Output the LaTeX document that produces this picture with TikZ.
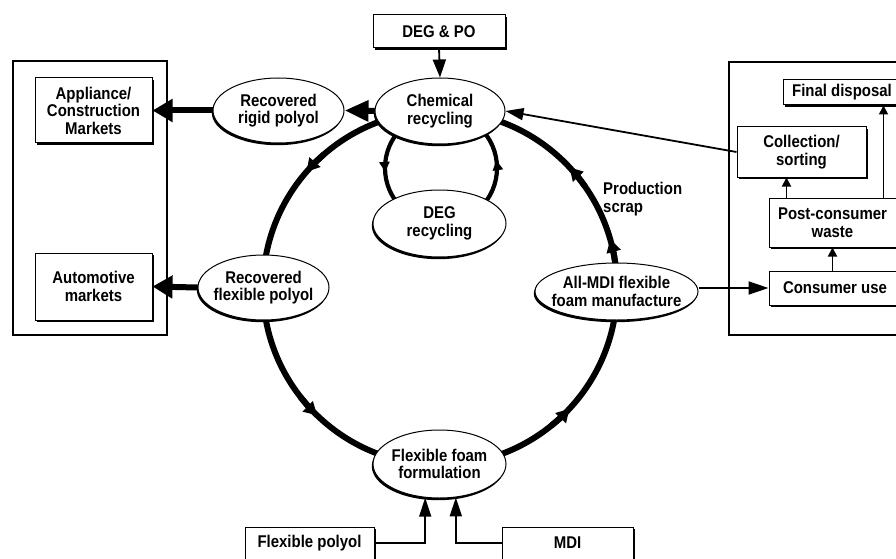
\documentclass[tikz,border=0pt]{standalone}
\usepackage{fontspec}
\setmainfont{Liberation Sans}[FakeStretch=0.88]
\usetikzlibrary{arrows.meta,shapes.geometric,shadows}
\tikzset{
  lab/.style={font=\fontsize{17}{17.5}\selectfont\bfseries, align=center, inner sep=0pt},
  ell/.style={ellipse, draw, line width=1pt, fill=white, inner sep=0pt,
    drop shadow={shadow xshift=-1.2pt, shadow yshift=-2.2pt, fill=black, opacity=1}},
  box/.style={lab, rectangle, draw, line width=1pt, fill=white,
    drop shadow={shadow xshift=2pt, shadow yshift=-2pt, fill=black, opacity=1}},
  frame/.style={draw, line width=2.2pt, rectangle, inner sep=0pt},
  fat/.style={line width=6pt, -{Triangle[length=20pt,width=22pt]}},
  link/.style={line width=1.8pt, -{Triangle[length=18pt,width=12pt]}},
  small/.style={line width=1.8pt, -{Triangle[length=9pt,width=9pt]}},
  ring/.style={line width=6pt},
  ringtip/.style={line width=6pt, -{Triangle[length=13pt,width=14pt]}},
  loop/.style={line width=4.2pt},
  looptip/.style={line width=4.2pt, -{Triangle[length=10pt,width=10pt]}}
}
\begin{document}
\begin{tikzpicture}[x=1pt,y=1pt]
\fill[white] (0,0) rectangle (896,558);
\useasboundingbox (0,0) rectangle (896,558);
\clip (0,0) rectangle (896,558);

% main cycle and DEG loop
\coordinate (C) at (440,270);
\coordinate (D) at (441,390);
\draw[ring] (C) circle[radius=177];
\foreach \a in {139,226,317,43,16}
  \draw[ringtip] (C) ++(\a-8:177) arc[start angle=\a-8, end angle=\a, radius=177];
\draw[loop] (D) circle[radius=56];
\foreach \a in {184,8}
  \draw[looptip] (D) ++(\a-10:56) arc[start angle=\a-10, end angle=\a, radius=56];

% frames
\node[frame, minimum width=154, minimum height=274] (lframe) at (90,360) {};
\node[frame, minimum width=180, minimum height=273] (rframe) at (819,359.5) {};

% ellipses
\node[ell, minimum width=130, minimum height=66] (chem) at (440,447) {};
\node[lab] (chemT) at (chem) {Chemical\\recycling};
\node[ell, minimum width=131, minimum height=65] (rigid) at (278.5,447.5) {};
\node[lab] (rigidT) at (rigid) {Recovered\\rigid polyol};
\node[ell, minimum width=133, minimum height=67] (deg) at (439.5,334.5) {};
\node[lab] (degT) at (deg) {DEG\\recycling};
\node[ell, minimum width=131, minimum height=65] (recflex) at (263.5,270.5) {};
\node[lab] (recflexT) at (recflex) {Recovered\\flexible polyol};
\node[ell, minimum width=163, minimum height=57] (mdi) at (616.5,266.5) {};
\node[lab] (mdiT) at (mdi) {All-MDI flexible\\foam manufacture};
\node[ell, minimum width=133, minimum height=68] (foam) at (439.5,94) {};
\node[lab] (foamT) at (foam) {Flexible foam\\formulation};

% boxes
\node[box, minimum width=132, minimum height=33] (degpo) at (439,526.5) {DEG \& PO};
\node[box, minimum width=117, minimum height=65] (appl) at (93.5,447.5) {Appliance/\\Construction\\Markets};
\node[box, minimum width=117, minimum height=67] (auto) at (93.5,271.5) {Automotive\\markets};
\node[box, minimum width=118, minimum height=25] (final) at (842,465.5) {Final disposal};
\node[box, minimum width=129, minimum height=50] (coll) at (801.5,406) {Collection/\\sorting};
\node[box, minimum width=127, minimum height=49] (post) at (832.5,335.5) {Post-consumer\\waste};
\node[box, minimum width=132, minimum height=34] (consumer) at (835,270) {Consumer use};
\node[box, minimum width=129, minimum height=32] (fpoly) at (309.5,15) {Flexible polyol};
\node[box, minimum width=131, minimum height=32] (mdibox) at (567.5,15) {MDI};

% label
\node[lab, align=left, anchor=north west] (scrap) at (603,376) {Production\\scrap};

% connectors
\draw[fat] (rigid.west) -- (appl.east);
\draw[fat] (recflex.west) -- (auto.east);
\draw[line width=6pt, -{Triangle[length=24pt,width=20pt]}] (chem.west) -- (rigid.east);
\draw[link, -{Triangle[length=18pt,width=13pt]}] (degpo.south) -- (chem.north);
\draw[link] (coll.west) -- (chem.east);
\draw[link, -{Triangle[length=20pt,width=13pt]}] (mdi.east |- consumer.west) -- (consumer.west);
\draw[small] (post.south |- consumer.north) -- (post.south);
\coordinate (pc) at ([xshift=18pt]post.north west);
\draw[small] (pc) -- (pc |- coll.south);
\coordinate (pf) at ([xshift=-13pt]post.north east);
\draw[small] (pf) -- (pf |- final.south);
\draw[link, -{Triangle[length=19pt,width=12pt]}] (fpoly.east) -| (foam.-113.6);
\draw[link, -{Triangle[length=19pt,width=12pt]}] (mdibox.west) -| (foam.-64);
\end{tikzpicture}
\end{document}
